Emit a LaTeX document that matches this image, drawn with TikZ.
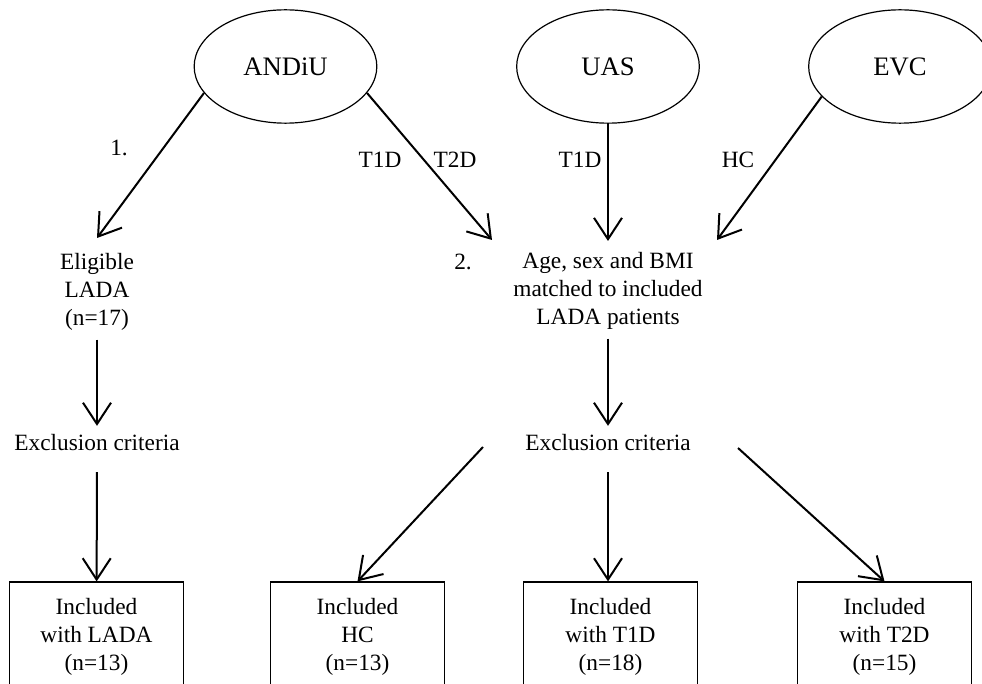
\documentclass[tikz,border=0pt]{standalone}
\usepackage{fontspec}
\setmainfont{Liberation Serif}
\usetikzlibrary{arrows.meta, shapes.geometric}

\begin{document}
\begin{tikzpicture}[
  x=0.75pt, y=-0.75pt,
  every node/.style={font=\fontsize{17.5}{21}\selectfont},
  src/.style={draw, ellipse, line width=0.9pt, minimum width=137pt,
              minimum height=85pt, inner sep=0pt, font=\fontsize{20}{24}\selectfont},
  box/.style={draw, line width=0.9pt, minimum width=131pt, minimum height=82.5pt,
              align=center, inner sep=0pt},
  txt/.style={align=center, inner xsep=0pt, inner ysep=6.5pt},
  flow/.style={-{Straight Barb[length=16pt, width=21pt, line width=1.5pt]}, line width=1.5pt},
  lab/.style={inner sep=0pt}
]
\useasboundingbox (0,0) rectangle (982,684);
\clip (0,0) rectangle (982,684);

% sources
\node[src] (andiu) at (285.5,66.5) {ANDiU};
\node[src] (uas) at (608,66.5) {UAS};
\node[src] (evc) at (900,66.5) {EVC};

% middle text
\node[txt] (elig) at (97,292) {Eligible\\LADA\\(n=17)};
\node[txt] (match) at (608,291) {Age, sex and BMI\\matched to included\\LADA patients};
\node[lab] (two) at (463,262) {2.};
\node[txt] (exclL) at (97,443) {Exclusion criteria};
\node[txt] (exclR) at (608,443) {Exclusion criteria};

% included groups
\node[box] (lada) at (96.5,637) {Included\\with LADA\\(n=13)};
\node[box] (hc) at (357.5,637) {Included\\HC\\(n=13)};
\node[box] (t1d) at (610.5,637) {Included\\with T1D\\(n=18)};
\node[box] (t2d) at (884.5,637) {Included\\with T2D\\(n=15)};

% free ends
\coordinate (toElig) at (97,238);
\coordinate (toTwo) at (492,240);
\coordinate (toMatch) at (608,241);
\coordinate (toMatchR) at (717,240);
\coordinate (splitL) at (483,447);
\coordinate (splitR) at (738,448);

\draw[flow] (andiu.198) -- (toElig);
\draw[flow] (andiu.342) -- (toTwo);
\draw[flow] (uas.south) -- (toMatch);
\draw[flow] (evc.201) -- (toMatchR);

\node[lab] (one) at (119,148) {1.};
\node[lab] (t1a) at (380,160) {T1D};
\node[lab] (t2a) at (455,160) {T2D};
\node[lab] (t1b) at (580,160) {T1D};
\node[lab] (hcl) at (738,160) {HC};

\draw[flow] (elig) -- (exclL);
\draw[flow] (match) -- (exclR);
\draw[flow, shorten <=9pt] (exclL) -- (lada);
\draw[flow, shorten <=9pt] (exclR.south) -- (exclR.south |- t1d.north);
\draw[flow] (splitL) -- (hc.north);
\draw[flow] (splitR) -- (t2d.north);
\end{tikzpicture}
\end{document}
